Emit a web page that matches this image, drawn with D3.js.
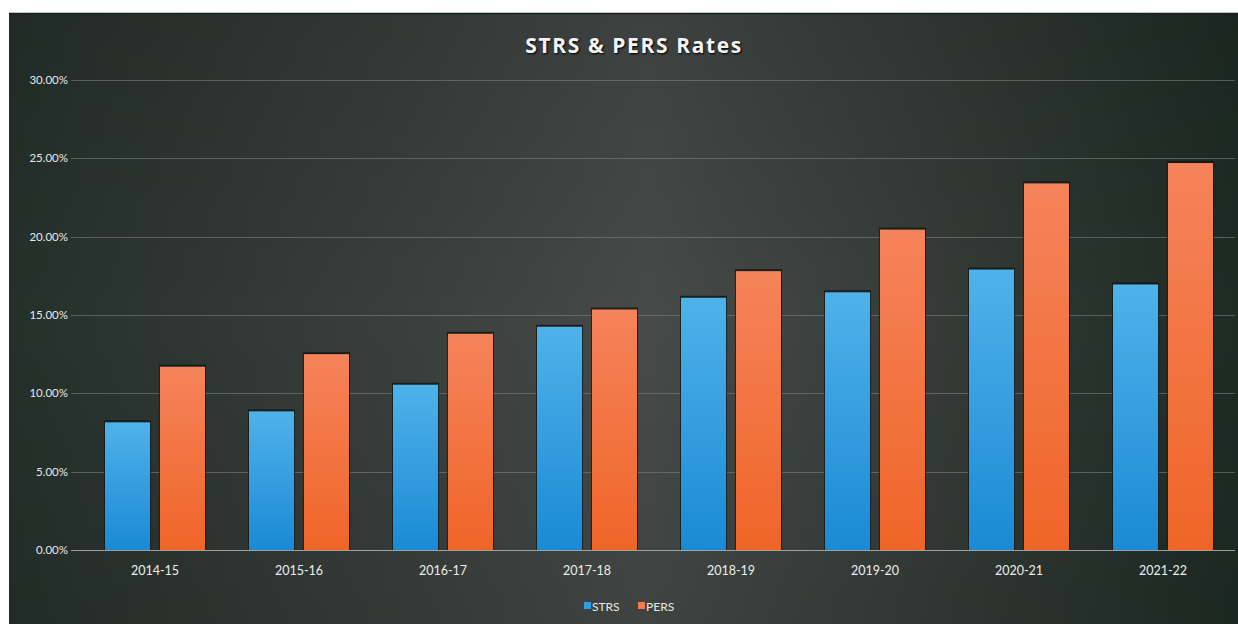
<!DOCTYPE html>
<html>
<head>
<meta charset="utf-8">
<script src="https://cdn.jsdelivr.net/npm/d3@7"></script>
<style>
    html, body { margin: 0; padding: 0; background: #fff; }
    svg { display: block; }
</style>
</head>
<body>
<svg id="chart" width="1238" height="624"></svg>
<script>
const years = ['2014-15', '2015-16', '2016-17', '2017-18', '2018-19', '2019-20', '2020-21', '2021-22']
const series = ['STRS', 'PERS']
const strsRates = [8.15, 8.85, 10.55, 14.25, 16.1, 16.45, 17.9, 16.95]
const persRates = [11.7, 12.5, 13.8, 15.35, 17.8, 20.45, 23.4, 24.7]
const yTicks = [0, 5, 10, 15, 20, 25, 30]

const svg = d3.select('#chart')
const W = 1238, H = 624
const margin = { top: 80, right: 3, bottom: 74, left: 83 }

const defs = svg.append('defs')

// scanned slide background: dark green edges, lighter grey middle
const bg = defs.append('linearGradient').attr('id', 'bg').attr('x1', 0).attr('x2', 1).attr('y1', 0).attr('y2', 0)
bg.append('stop').attr('offset', '0%').attr('stop-color', '#25302b')
bg.append('stop').attr('offset', '30%').attr('stop-color', '#383e3b')
bg.append('stop').attr('offset', '52%').attr('stop-color', '#464a48')
bg.append('stop').attr('offset', '78%').attr('stop-color', '#323a36')
bg.append('stop').attr('offset', '100%').attr('stop-color', '#1e2b25')

const blue = defs.append('linearGradient').attr('id', 'gSTRS').attr('x1', 0).attr('x2', 0).attr('y1', 0).attr('y2', 1)
blue.append('stop').attr('offset', '0%').attr('stop-color', '#4fb2ea')
blue.append('stop').attr('offset', '100%').attr('stop-color', '#1a8ad4')

const orange = defs.append('linearGradient').attr('id', 'gPERS').attr('x1', 0).attr('x2', 0).attr('y1', 0).attr('y2', 1)
orange.append('stop').attr('offset', '0%').attr('stop-color', '#f5835b')
orange.append('stop').attr('offset', '100%').attr('stop-color', '#ef6528')

const shade = defs.append('linearGradient').attr('id', 'vshade').attr('x1', 0).attr('x2', 0).attr('y1', 0).attr('y2', 1)
shade.append('stop').attr('offset', '0%').attr('stop-color', '#000').attr('stop-opacity', 0.12)
shade.append('stop').attr('offset', '50%').attr('stop-color', '#000').attr('stop-opacity', 0)
shade.append('stop').attr('offset', '100%').attr('stop-color', '#000').attr('stop-opacity', 0.1)

svg.append('rect').attr('x', 9).attr('y', 13).attr('width', W - 9).attr('height', H - 13).attr('fill', 'url(#bg)')
svg.append('rect').attr('x', 9).attr('y', 13).attr('width', W - 9).attr('height', H - 13).attr('fill', 'url(#vshade)')
svg.append('line').attr('x1', 9).attr('x2', W).attr('y1', 13.5).attr('y2', 13.5).attr('stroke', '#1a1f1c').attr('stroke-width', 1.5)

const x0 = d3.scaleBand().domain(years).range([margin.left, W - margin.right]).padding(0)
const x1 = d3.scaleBand().domain(series).range([0, x0.bandwidth()]).paddingInner(0.18).paddingOuter(0.4)
const y = d3.scaleLinear().domain([0, 30]).range([H - margin.bottom, margin.top])

// gridlines
svg.append('g')
    .selectAll('line')
    .data(yTicks)
    .join('line')
    .attr('x1', margin.left - 12)
    .attr('x2', W - margin.right)
    .attr('y1', (d) => Math.round(y(d)) + 0.5)
    .attr('y2', (d) => Math.round(y(d)) + 0.5)
    .attr('stroke', (d) => (d === 0 ? '#a9adab' : '#7c8280'))
    .attr('stroke-opacity', (d) => (d === 0 ? 0.9 : 0.6))
    .attr('stroke-width', 1)

// y tick labels
svg.append('g')
    .attr('font-family', 'Lato, "Open Sans", sans-serif')
    .attr('font-size', 11.5)
    .attr('fill', '#e6e8e6')
    .attr('text-anchor', 'end')
    .selectAll('text')
    .data(yTicks)
    .join('text')
    .attr('x', 68)
    .attr('y', (d) => y(d) + 4)
    .text((d) => d3.format('.2f')(d) + '%')

const rows = years.map((yr, i) => ({ year: yr, STRS: strsRates[i], PERS: persRates[i] }))

const groups = svg.append('g')
    .selectAll('g')
    .data(rows)
    .join('g')
    .attr('transform', (d) => `translate(${x0(d.year)},0)`)

const bars = groups.selectAll('g')
    .data((d) => series.map((s) => ({ key: s, value: d[s] })))
    .join('g')

// dark edge round each bar, as in the scan
bars.append('rect')
    .attr('x', (d) => x1(d.key) - 1)
    .attr('y', (d) => y(d.value) - 2)
    .attr('width', x1.bandwidth() + 2)
    .attr('height', (d) => y(0) - y(d.value) + 2)
    .attr('fill', '#121614')
    .attr('opacity', 0.8)

bars.append('rect')
    .attr('x', (d) => x1(d.key))
    .attr('y', (d) => y(d.value))
    .attr('width', x1.bandwidth())
    .attr('height', (d) => y(0) - y(d.value))
    .attr('fill', (d) => `url(#g${d.key})`)

// category labels
svg.append('g')
    .attr('font-family', 'Lato, "Open Sans", sans-serif')
    .attr('font-size', 12.5)
    .attr('fill', '#eceeec')
    .attr('text-anchor', 'middle')
    .selectAll('text')
    .data(years)
    .join('text')
    .attr('x', (d) => x0(d) + x0.bandwidth() / 2)
    .attr('y', H - margin.bottom + 25)
    .text((d) => d)

// title
svg.append('text')
    .attr('x', 634)
    .attr('y', 53)
    .attr('text-anchor', 'middle')
    .attr('font-family', '"Open Sans", sans-serif')
    .attr('font-weight', 'bold')
    .attr('font-size', 21)
    .attr('letter-spacing', 1.6)
    .attr('fill', '#f4f4f4')
    .attr('style', 'text-shadow: 1px 1px 2px #000')
    .text('STRS & PERS Rates')

// legend
const legendColors = { STRS: '#2a9fe2', PERS: '#f57a46' }
const legend = svg.append('g')
    .attr('font-family', 'Lato, "Open Sans", sans-serif')
    .attr('font-size', 12)
    .attr('fill', '#e6e8e6')
const legendX = { STRS: 584, PERS: 638 }
series.forEach((s) => {
    legend.append('rect')
        .attr('x', legendX[s])
        .attr('y', 602)
        .attr('width', 7)
        .attr('height', 7)
        .attr('fill', legendColors[s])
    legend.append('text')
        .attr('x', legendX[s] + 8)
        .attr('y', 610.5)
        .text(s)
})
</script>
</body>
</html>
